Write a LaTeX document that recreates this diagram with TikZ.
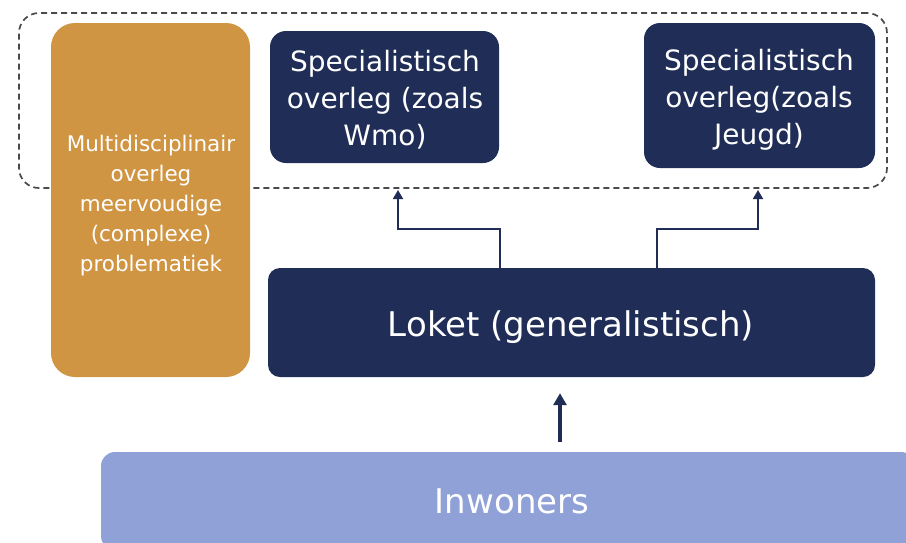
\documentclass[tikz,border=0pt]{standalone}
\usepackage{fontspec}
\setmainfont{DejaVu Sans}
\usetikzlibrary{arrows.meta}
\definecolor{navy}{HTML}{1F2D57}
\definecolor{ochre}{HTML}{D09543}
\definecolor{lblue}{HTML}{8FA1D6}
\definecolor{dgray}{HTML}{4A4A4A}
\tikzset{
  box/.style={rectangle, rounded corners=16pt, inner sep=0pt},
  navybox/.style={box, fill=navy},
  txt/.style={text=white, align=center, inner sep=0pt},
  specfont/.style={txt, font=\fontsize{28}{37}\selectfont},
  link/.style={navy, line width=1.8pt, -{Triangle[width=10pt,length=9pt]}},
}
\begin{document}
\begin{tikzpicture}[x=1pt,y=-1pt]
\useasboundingbox (0,0) rectangle (906,542);
\node[draw=dgray, dash pattern=on 6pt off 4pt, line width=1.7pt, rounded corners=20pt, minimum width=868pt, minimum height=175pt] (grp) at (453,100.5) {};
\node[box, fill=ochre, rounded corners=24pt, minimum width=199pt, minimum height=354pt] (multi) at (150.5,200) {};
\node[txt, font=\fontsize{21.5}{30}\selectfont] (multit) at (151,206) {Multidisciplinair\\overleg\\meervoudige\\(complexe)\\problematiek};
\node[navybox, minimum width=229pt, minimum height=132pt] (spec1) at (384.5,97) {};
\node[specfont] (spec1t) at (385,100) {Specialistisch\\overleg (zoals\\Wmo)};
\node[navybox, minimum width=231pt, minimum height=145pt] (spec2) at (759.5,95.5) {};
\node[specfont] (spec2t) at (759,100) {Specialistisch\\overleg(zoals\\Jeugd)};
\node[navybox, rounded corners=12pt, minimum width=607pt, minimum height=109pt] (loket) at (571.5,322.5) {};
\node[txt, font=\fontsize{34}{40}\selectfont] (lokett) at (571,327) {Loket (generalistisch)};
\node[box, fill=lblue, rounded corners=14pt, minimum width=814pt, minimum height=98pt] (inw) at (508,501) {};
\node[txt, font=\fontsize{34}{40}\selectfont] (inwt) at (512,501) {Inwoners};
\draw[link] (loket.north -| 500,0) |- (398,229) -- (398,190);
\draw[link] (loket.north -| 657,0) |- (758,229) -- (758,190);
\draw[navy, line width=4pt, -{Triangle[width=13pt,length=12pt]}] (inw.north -| 560,0) ++(0,-10) -- ([yshift=-16pt]loket.south -| 560,0);
\end{tikzpicture}
\end{document}
